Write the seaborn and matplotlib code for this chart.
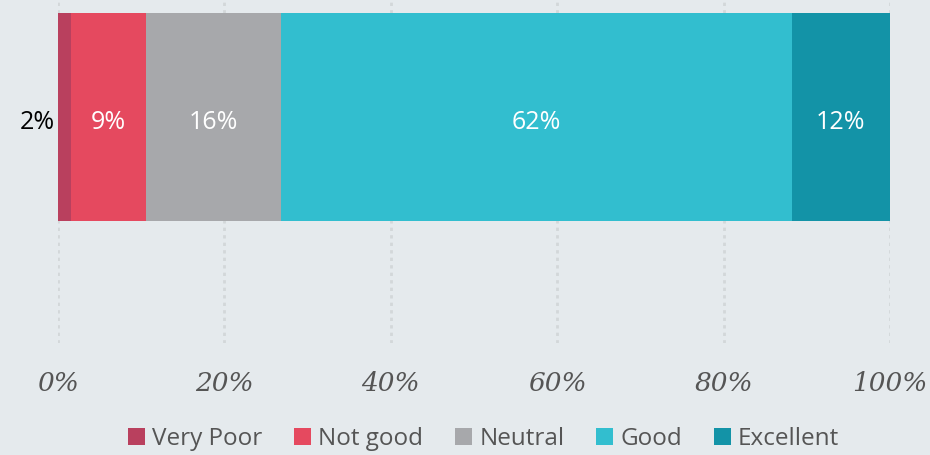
import numpy as np
import pandas as pd
import seaborn as sns
import matplotlib.pyplot as plt
from matplotlib.patches import Patch

categories = ["Very Poor", "Not good", "Neutral", "Good", "Excellent"]
shares = [1.6, 9.0, 16.2, 61.4, 11.8]
share_labels = ["2%", "9%", "16%", "62%", "12%"]
colors = ["#b9405e", "#e5495f", "#a7a8ab", "#32becf", "#1393a7"]
ticks = [0, 20, 40, 60, 80, 100]

sns.set_theme(style="white")
plt.rcParams["font.family"] = ["Open Sans", "DejaVu Sans"]

bg = "#e5eaed"
fig = plt.figure(figsize=(9.3, 4.55), dpi=100, facecolor=bg)
ax = fig.add_axes([0.0624, 0.246, 0.8946, 0.754])
ax.set_facecolor(bg)

# normalise to 100 and stack
vals = np.array(shares) / sum(shares) * 100
cum = np.cumsum(vals)
df = pd.DataFrame({"row": ["all"] * len(categories), "cat": categories, "cum": cum, "val": vals})

# draw from the widest cumulative bar down so each segment shows
for i in range(len(categories) - 1, -1, -1):
    sns.barplot(data=df.iloc[[i]], x="cum", y="row", color=colors[i], orient="h",
                width=0.8, saturation=1, linewidth=0, ax=ax, zorder=2)

ax.set_xlim(0, 100)
ax.set_ylim(0.869, -0.45)
ax.set_xticks(ticks)
ax.set_xticklabels([f"{t}%" for t in ticks], family="DejaVu Serif", style="italic",
                   fontsize=19, color="#555555")
ax.tick_params(axis="x", length=0, pad=20)
ax.set_yticks([])
ax.set_xlabel("")
ax.set_ylabel("")
for s in ax.spines.values():
    s.set_visible(False)
ax.grid(axis="x", linestyle=(0, (1.2, 1.5)), color="#d3d7d9", linewidth=2, zorder=0)
ax.set_axisbelow(True)

starts = cum - vals
for i, lab in enumerate(share_labels):
    if vals[i] < 4:
        ax.text(starts[i] - 0.4, 0.02, lab, ha="right", va="center", fontsize=18, color="black")
    else:
        ax.text(starts[i] + vals[i] / 2, 0.02, lab, ha="center", va="center", fontsize=18, color="white")

handles = [Patch(facecolor=c, edgecolor="none") for c in colors]
leg = fig.legend(handles, categories, loc="center", bbox_to_anchor=(0.52, 0.035), ncol=5,
                 frameon=False, fontsize=17.5, handlelength=0.7, handleheight=0.7,
                 handletextpad=0.3, columnspacing=1.3, labelcolor="#555555")

fig.savefig("out.png", dpi=100, facecolor=bg)
